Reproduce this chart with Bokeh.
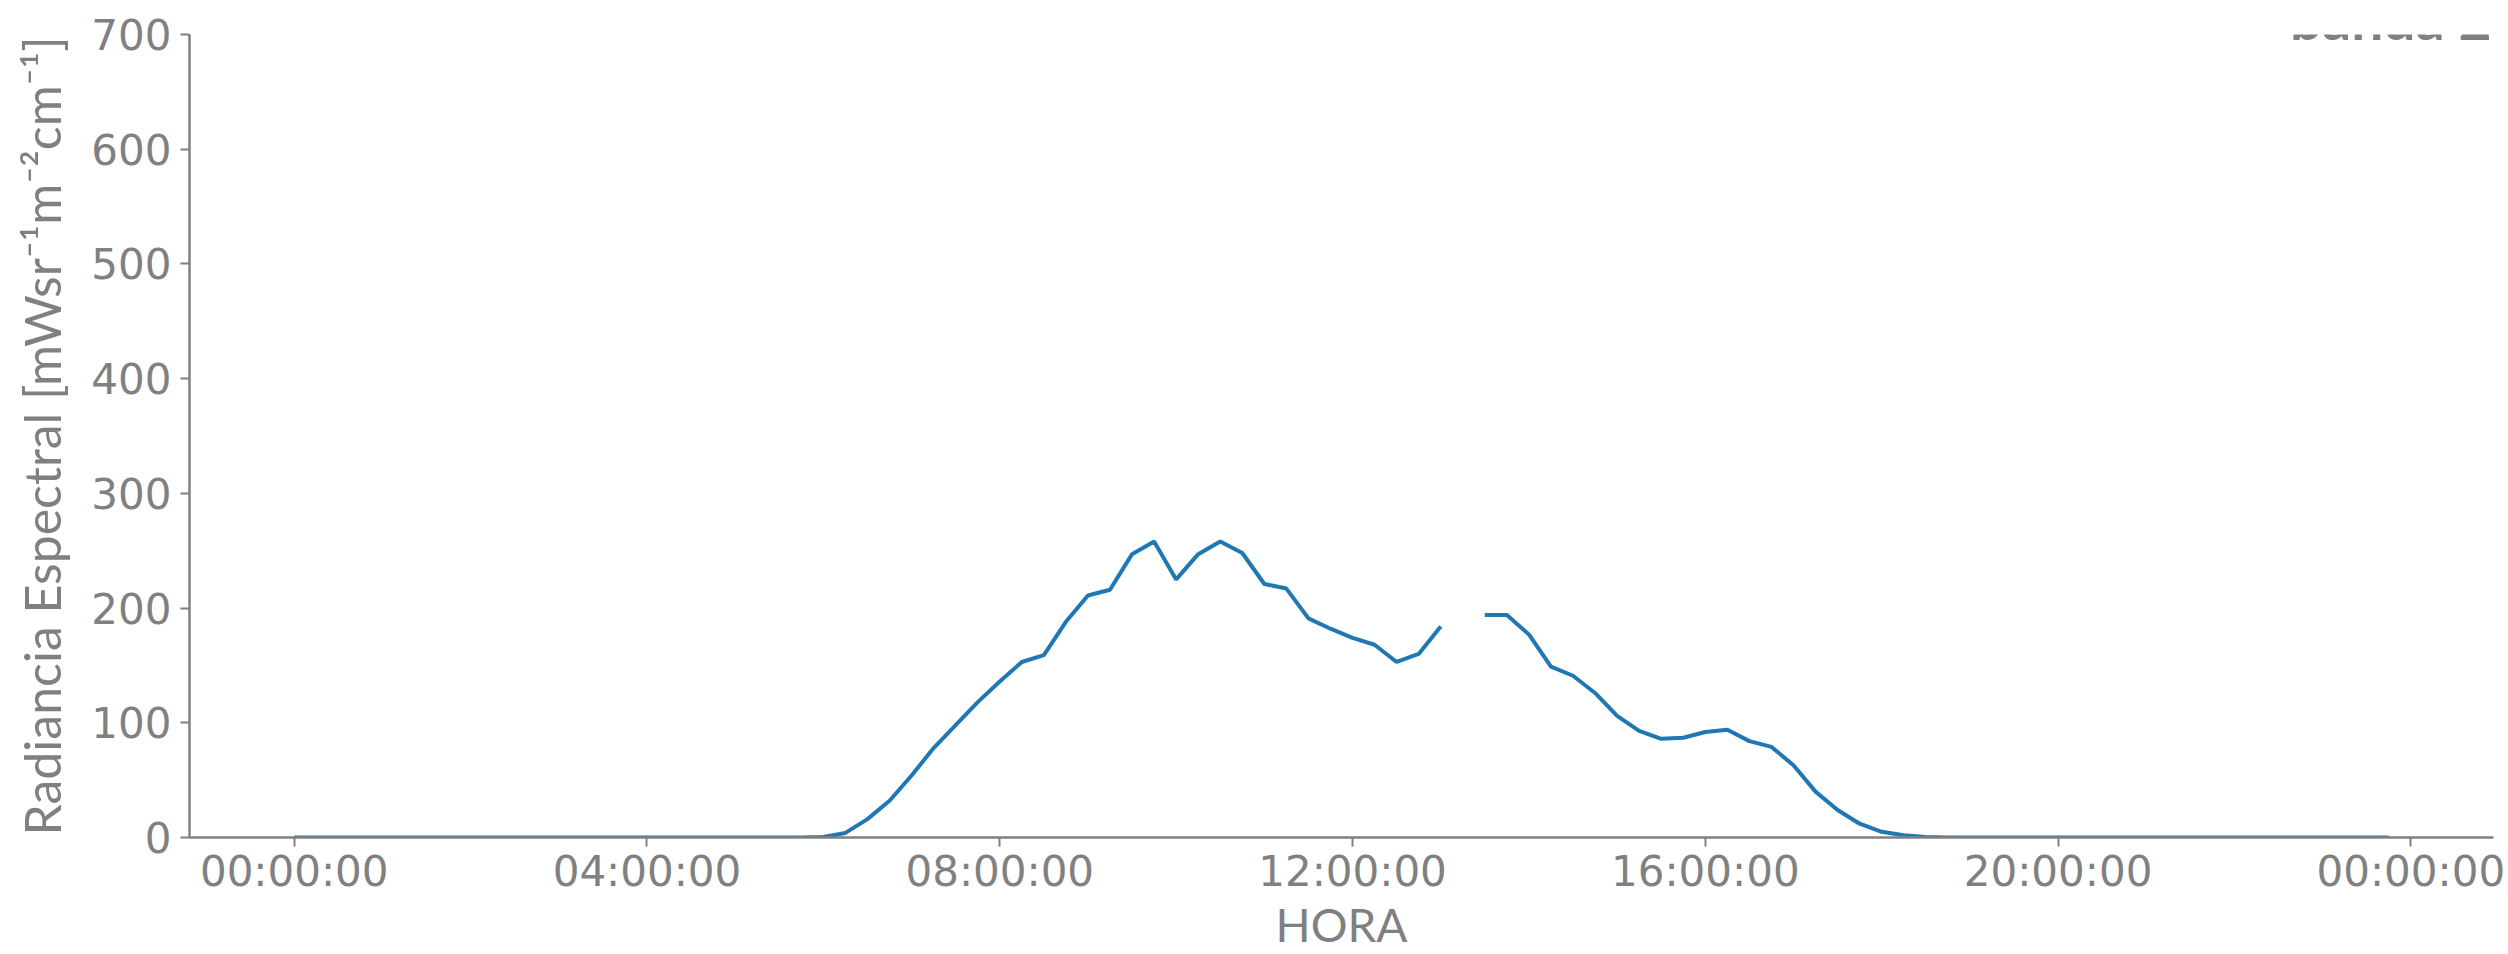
import numpy as np
import pandas as pd
from bokeh.plotting import figure
from bokeh.models import (Range1d, FixedTicker, DatetimeTickFormatter, Label,
                          ColumnDataSource)
from bokeh.embed import file_html
from bokeh.resources import INLINE

# ---- data -------------------------------------------------------------
nan = float("nan")
times = pd.date_range("2021-01-01 00:00", periods=96, freq="15min")

night_am = [0.0] * 24                      # 00:00 - 05:45
day_values = [                             # 06:00 - 18:30
    0.5, 4, 16, 32,                        # 06:00 .. 06:45
    54, 78, 98, 118,                       # 07
    136, 153, 159, 188,                    # 08
    211, 216, 247, 258,                    # 09
    225, 247, 258, 248,                    # 10
    221, 217, 191, 182,                    # 11
    174, 168, 153, 160,                    # 12
    184, nan, 194, 194,                    # 13
    177, 149, 141, 126,                    # 14
    106, 93, 86, 87,                       # 15
    92, 94, 84, 79,                        # 16
    63, 40, 24, 12,                        # 17
    5, 2, 0.5,                             # 18:00 .. 18:30
]
night_pm = [0.0] * 21                      # 18:45 - 23:45
radiancia = night_am + day_values + night_pm

y_ticks = [0, 100, 200, 300, 400, 500, 600, 700]
x_tick_hours = [0, 4, 8, 12, 16, 20, 24]
title_text = "banda 2"
x_label = "HORA"
y_label = "Radiancia Espectral [mWsr\u207b\u00b9m\u207b\u00b2cm\u207b\u00b9]"

# ---- figure -------------------------------------------------------------
GRAY = "#808080"
t0 = pd.Timestamp("2021-01-01 00:00")
HOUR_MS = 3600 * 1000.0
t0_ms = t0.value / 1e6
span_h = 23.75
x_start = t0_ms - 0.05 * span_h * HOUR_MS
x_end = t0_ms + 1.05 * span_h * HOUR_MS

p = figure(width=2508, height=954, x_axis_type="datetime",
           output_backend="svg", toolbar_location=None,
           x_range=Range1d(x_start, x_end), y_range=Range1d(0, 700),
           min_border_left=189, min_border_right=15,
           min_border_top=34, min_border_bottom=114)

src = ColumnDataSource(dict(t=times, v=radiancia))
p.line("t", "v", source=src, line_color="#1f77b4", line_width=4)

p.grid.visible = False
p.outline_line_color = None
p.background_fill_color = "white"
p.border_fill_color = "white"

p.xaxis.ticker = FixedTicker(ticks=[t0_ms + h * HOUR_MS for h in x_tick_hours])
p.xaxis.formatter = DatetimeTickFormatter(hours="%H:%M:%S", days="%H:%M:%S",
                                          hourmin="%H:%M:%S", minutes="%H:%M:%S")
p.yaxis.ticker = FixedTicker(ticks=y_ticks)
p.xaxis.minor_tick_line_color = None
p.yaxis.minor_tick_line_color = None

for ax in (p.xaxis, p.yaxis):
    ax.axis_line_color = GRAY
    ax.axis_line_width = 2.5
    ax.major_tick_line_color = GRAY
    ax.major_tick_line_width = 2
    ax.major_tick_out = 9
    ax.major_tick_in = 0
    ax.major_label_text_color = GRAY
    ax.major_label_text_font = "DejaVu Sans"
    ax.major_label_text_font_size = "42px"
    ax.axis_label_text_color = GRAY
    ax.axis_label_text_font = "Lato"
    ax.axis_label_text_font_style = "normal"

p.xaxis.axis_label_text_font_size = "46px"
p.yaxis.axis_label_text_font_size = "50px"
p.xaxis.axis_label = x_label
p.yaxis.axis_label = y_label
p.xaxis.major_label_standoff = 0
p.xaxis.axis_label_standoff = -2
p.yaxis.major_label_standoff = 9
p.yaxis.axis_label_standoff = 16

# title: right-aligned, baseline ~16 px above the frame top (as in the reference)
title = Label(x=x_end, y=714, x_units="data", y_units="data",
              text=title_text, text_align="right", text_baseline="alphabetic",
              x_offset=-2, y_offset=0, text_color=GRAY, text_font="Lato",
              text_font_style="bold", text_font_size="57px")
p.add_layout(title)

open("out.html", "w").write(file_html(p, INLINE))
